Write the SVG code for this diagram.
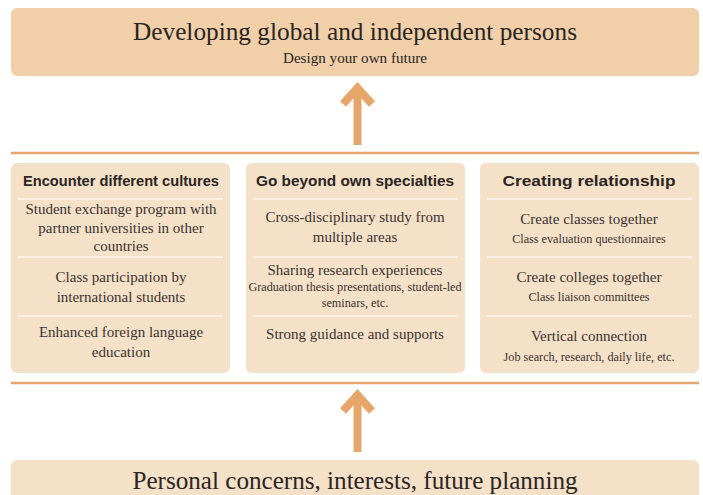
<svg xmlns="http://www.w3.org/2000/svg" width="703" height="495" viewBox="0 0 703 495">
<style>
.top{fill:#f1cfa9}
.box{fill:#f5e0c8}
.sep{stroke:#ffffff;stroke-width:1.2}
.rule{stroke:#e3a66b;stroke-width:2.5}
.arr{stroke:#e6a66a;stroke-width:8;fill:none}
.big{font-family:"Liberation Serif",serif;font-size:24.5px;fill:#2a2623;text-anchor:middle}
.sub{font-family:"Liberation Serif",serif;font-size:14px;fill:#2a2623;text-anchor:middle}
.hd{font-family:"Liberation Sans",Arial,sans-serif;font-weight:bold;font-size:15.5px;fill:#2a2623;text-anchor:middle}
.t{font-family:"Liberation Serif",serif;font-size:15px;fill:#3a3430;text-anchor:middle}
.s{font-family:"Liberation Serif",serif;font-size:12.2px;fill:#3a3430;text-anchor:middle}
</style>
<rect width="703" height="495" fill="#ffffff"/>
<g id="goal">
<rect class="top" x="11" y="8" width="688" height="68" rx="6"/>
<text class="big" x="355" y="40" textLength="444" lengthAdjust="spacingAndGlyphs">Developing global and independent persons</text>
<text class="sub" x="355" y="63" textLength="144" lengthAdjust="spacingAndGlyphs">Design your own future</text>
</g>
<g id="connectors">
<line class="rule" x1="11" y1="153" x2="699" y2="153"/>
<line class="rule" x1="11" y1="383" x2="699" y2="383"/>
<line class="arr" x1="357.5" y1="88" x2="357.5" y2="145"/>
<polyline class="arr" points="343,104 357.5,88 372,104" stroke-linejoin="miter"/>
<line class="arr" x1="357.5" y1="395" x2="357.5" y2="452"/>
<polyline class="arr" points="343,411 357.5,395 372,411" stroke-linejoin="miter"/>
</g>
<g id="cultures">
<rect class="box" x="11" y="163" width="219" height="210" rx="6"/>
<text class="hd" x="121" y="186" textLength="196" lengthAdjust="spacingAndGlyphs">Encounter different cultures</text>
<line class="sep" x1="18" y1="199" x2="223" y2="199"/>
<line class="sep" x1="18" y1="257" x2="223" y2="257"/>
<line class="sep" x1="18" y1="316" x2="223" y2="316"/>
<text class="t" x="121" y="214">Student exchange program with</text>
<text class="t" x="121" y="233">partner universities in other</text>
<text class="t" x="121" y="251">countries</text>
<text class="t" x="121" y="282">Class participation by</text>
<text class="t" x="121" y="302">international students</text>
<text class="t" x="121" y="337">Enhanced foreign language</text>
<text class="t" x="121" y="357">education</text>
</g>
<g id="specialties">
<rect class="box" x="246" y="163" width="219" height="210" rx="6"/>
<text class="hd" x="355" y="186" textLength="198" lengthAdjust="spacingAndGlyphs">Go beyond own specialties</text>
<line class="sep" x1="253" y1="199" x2="458" y2="199"/>
<line class="sep" x1="253" y1="257" x2="458" y2="257"/>
<line class="sep" x1="253" y1="316" x2="458" y2="316"/>
<text class="t" x="355" y="222">Cross-disciplinary study from</text>
<text class="t" x="355" y="242">multiple areas</text>
<text class="t" x="355" y="275">Sharing research experiences</text>
<text class="s" x="355" y="291">Graduation thesis presentations, student-led</text>
<text class="s" x="355" y="307">seminars, etc.</text>
<text class="t" x="355" y="339">Strong guidance and supports</text>
</g>
<g id="relationship">
<rect class="box" x="480" y="163" width="219" height="210" rx="6"/>
<text class="hd" x="589" y="186" textLength="173" lengthAdjust="spacingAndGlyphs">Creating relationship</text>
<line class="sep" x1="487" y1="199" x2="692" y2="199"/>
<line class="sep" x1="487" y1="257" x2="692" y2="257"/>
<line class="sep" x1="487" y1="316" x2="692" y2="316"/>
<text class="t" x="589" y="224">Create classes together</text>
<text class="s" x="589" y="243">Class evaluation questionnaires</text>
<text class="t" x="589" y="282">Create colleges together</text>
<text class="s" x="589" y="301">Class liaison committees</text>
<text class="t" x="589" y="341">Vertical connection</text>
<text class="s" x="589" y="361">Job search, research, daily life, etc.</text>
</g>
<g id="personal">
<rect class="box" x="11" y="460" width="688" height="50" rx="6"/>
<text class="big" x="355" y="489" textLength="445" lengthAdjust="spacingAndGlyphs">Personal concerns, interests, future planning</text>
</g>
</svg>
